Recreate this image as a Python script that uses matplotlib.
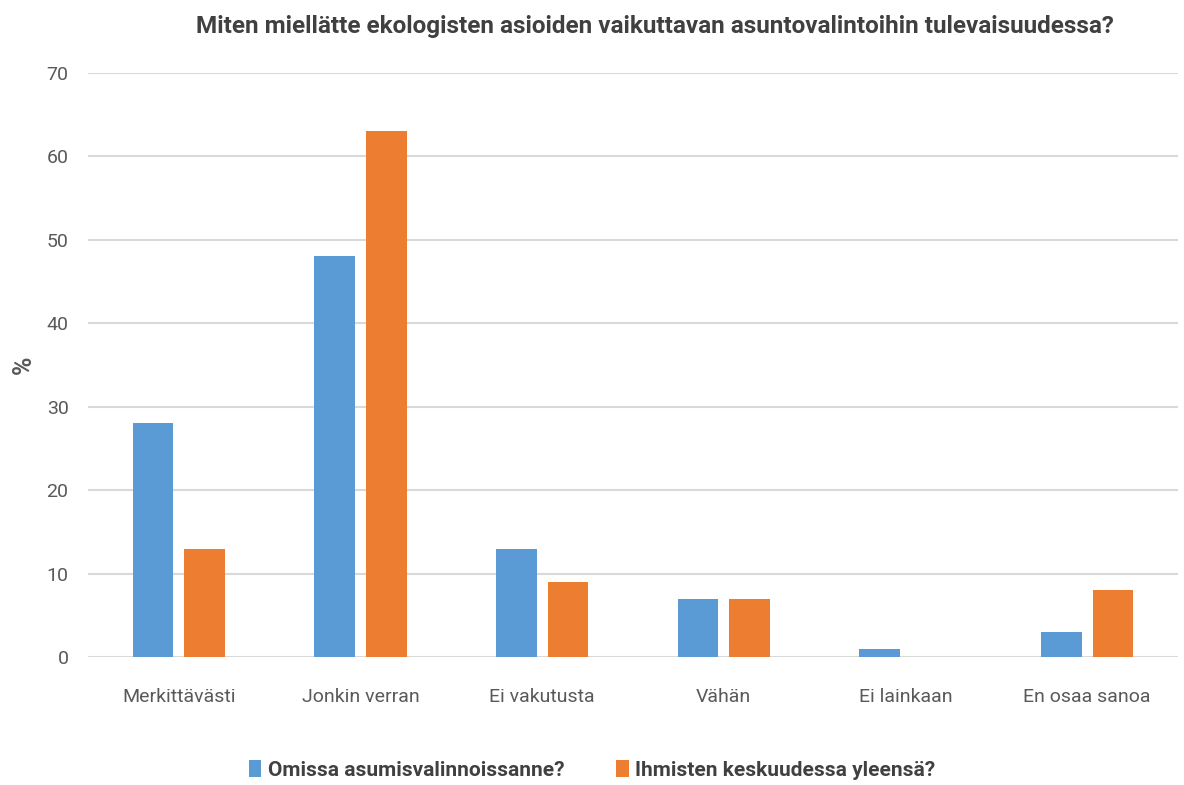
import matplotlib
matplotlib.use("Agg")
import matplotlib.pyplot as plt
import numpy as np

categories = ["Merkittävästi", "Jonkin verran", "Ei vakutusta", "Vähän", "Ei lainkaan", "En osaa sanoa"]
series_names = ["Omissa asumisvalinnoissanne?", "Ihmisten keskuudessa yleensä?"]
omissa = [28, 48, 13, 7, 1, 3]
ihmisten = [13, 63, 9, 7, 0, 8]
yticks = [0, 10, 20, 30, 40, 50, 60, 70]

plt.rcParams['font.family'] = ['Roboto', 'DejaVu Sans']

fig = plt.figure(figsize=(11.84, 7.85), dpi=100)
ax = fig.add_axes([88/1184, 0.1627, (1178-88)/1184, 0.9073-0.1627])

x = np.arange(len(categories))
w = 0.224
off = 0.142
ax.bar(x - off, omissa, w, color="#5B9BD5", label=series_names[0], zorder=3)
ax.bar(x + off, ihmisten, w, color="#ED7D31", label=series_names[1], zorder=3)

ax.set_xlim(-0.5, len(categories) - 0.5)
ax.set_ylim(0, 70)
ax.set_yticks(yticks)
ax.set_xticks(x)
ax.set_xticklabels(categories)
ax.yaxis.grid(True, color="#D9D9D9", linewidth=1.5, zorder=0)
ax.set_axisbelow(True)
for s in ax.spines.values():
    s.set_visible(False)
ax.tick_params(axis='both', length=0, colors="#595959", labelsize=14)
ax.tick_params(axis='y', pad=14)
ax.tick_params(axis='x', pad=22)

fig.text(24/1184, 1 - 365/785, "%", rotation=90, ha='center', va='center',
         fontsize=18, fontweight='bold', color="#595959")

fig.text(0.553, 0.966, "Miten miellätte ekologisten asioiden vaikuttavan asuntovalintoihin tulevaisuudessa?",
         ha='center', va='center', fontsize=17.5, fontweight='bold', color="#404040")

leg = fig.legend(loc='center', bbox_to_anchor=(0.5, 1 - 770/785), ncol=2, frameon=False,
                 prop={'size': 15, 'weight': 'bold'}, handlelength=0.6, handleheight=0.9,
                 handletextpad=0.3, columnspacing=2.5)
for t in leg.get_texts():
    t.set_color("#404040")

fig.savefig("out.png", dpi=100)
